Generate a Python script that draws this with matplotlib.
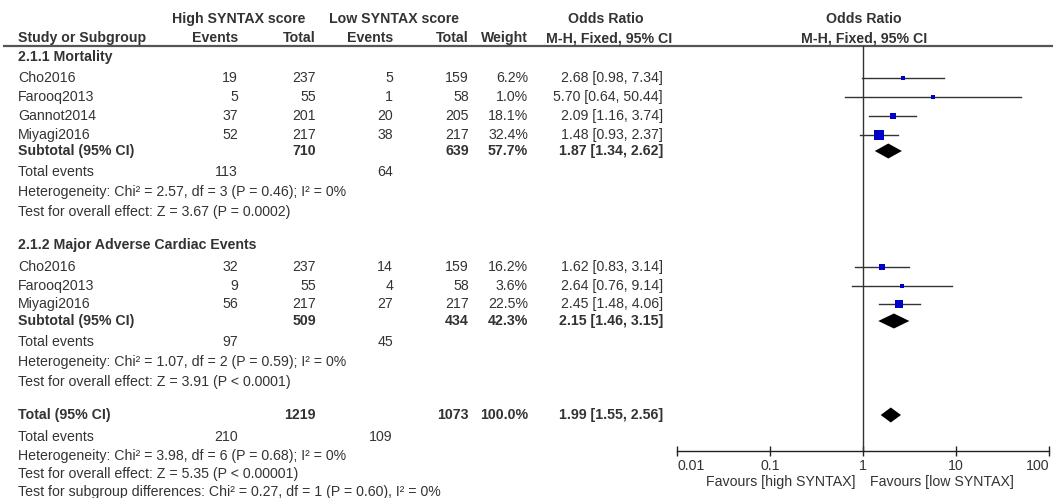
import matplotlib
matplotlib.use("Agg")
import matplotlib.pyplot as plt
import numpy as np

plt.rcParams['font.family'] = ['Liberation Sans', 'DejaVu Sans']

# ---------------- data ----------------
mort_studies = ["Cho2016", "Farooq2013", "Gannot2014", "Miyagi2016"]
mort_high_events = [19, 5, 37, 52]
mort_high_total = [237, 55, 201, 217]
mort_low_events = [5, 1, 20, 38]
mort_low_total = [159, 58, 205, 217]
mort_weight = [6.2, 1.0, 18.1, 32.4]
mort_or = [2.68, 5.70, 2.09, 1.48]
mort_lo = [0.98, 0.64, 1.16, 0.93]
mort_hi = [7.34, 50.44, 3.74, 2.37]
mort_sub = dict(high_total=710, low_total=639, weight=57.7, est=1.87, lo=1.34, hi=2.62,
                high_events=113, low_events=64)
mort_het = "Heterogeneity: Chi² = 2.57, df = 3 (P = 0.46); I² = 0%"
mort_test = "Test for overall effect: Z = 3.67 (P = 0.0002)"

mace_studies = ["Cho2016", "Farooq2013", "Miyagi2016"]
mace_high_events = [32, 9, 56]
mace_high_total = [237, 55, 217]
mace_low_events = [14, 4, 27]
mace_low_total = [159, 58, 217]
mace_weight = [16.2, 3.6, 22.5]
mace_or = [1.62, 2.64, 2.45]
mace_lo = [0.83, 0.76, 1.48]
mace_hi = [3.14, 9.14, 4.06]
mace_sub = dict(high_total=509, low_total=434, weight=42.3, est=2.15, lo=1.46, hi=3.15,
                high_events=97, low_events=45)
mace_het = "Heterogeneity: Chi² = 1.07, df = 2 (P = 0.59); I² = 0%"
mace_test = "Test for overall effect: Z = 3.91 (P < 0.0001)"

total = dict(high_total=1219, low_total=1073, weight=100.0, est=1.99, lo=1.55, hi=2.56,
             high_events=210, low_events=109)
total_het = "Heterogeneity: Chi² = 3.98, df = 6 (P = 0.68); I² = 0%"
total_test = "Test for overall effect: Z = 5.35 (P < 0.00001)"
subgroup_test = "Test for subgroup differences: Chi² = 0.27, df = 1 (P = 0.60), I² = 0%"

xticks = [0.01, 0.1, 1, 10, 100]
xtick_labels = ["0.01", "0.1", "1", "10", "100"]

# ---------------- layout ----------------
W, H = 1053, 498
fig = plt.figure(figsize=(W / 100, H / 100), dpi=100)
tax = fig.add_axes([0, 0, 1, 1])
tax.set_xlim(0, W)
tax.set_ylim(H, 0)
tax.axis('off')

TC = '#333333'
FS = 10.2

col_name = 18
col_he = 238
col_ht = 316
col_le = 393
col_lt = 469
col_w = 528
col_or = 663


def txt(x, y, s, ha='left', bold=False, color=TC):
    tax.text(x, y, s, ha=ha, va='center', fontsize=FS, color=color,
             fontweight='bold' if bold else 'normal')


# header
txt(239, 19, "High SYNTAX score", ha='center', bold=True)
txt(394, 19, "Low SYNTAX score", ha='center', bold=True)
txt(606, 19, "Odds Ratio", ha='center', bold=True)
txt(864, 19, "Odds Ratio", ha='center', bold=True)
txt(col_name, 38, "Study or Subgroup", bold=True)
txt(col_he, 38, "Events", ha='right', bold=True)
txt(col_ht, 38, "Total", ha='right', bold=True)
txt(col_le, 38, "Events", ha='right', bold=True)
txt(col_lt, 38, "Total", ha='right', bold=True)
txt(col_w, 38, "Weight", ha='right', bold=True)
txt(609, 38, "M-H, Fixed, 95% CI", ha='center', bold=True)
txt(864, 38, "M-H, Fixed, 95% CI", ha='center', bold=True)
tax.plot([3, W], [46, 46], color='#555555', lw=1.6, solid_capstyle='butt')

# forest axes
ax_top, ax_bot = 46, 451
x_left, x_right = 677, 1049
fax = fig.add_axes([x_left / W, 1 - ax_bot / H, (x_right - x_left) / W, (ax_bot - ax_top) / H])
fax.set_xscale('log')
fax.set_xlim(0.01, 100)
fax.set_ylim(ax_bot, ax_top)
fax.patch.set_alpha(0)
for s in ['top', 'left', 'right']:
    fax.spines[s].set_visible(False)
fax.spines['bottom'].set_color('#222222')
fax.spines['bottom'].set_linewidth(1.0)
fax.set_yticks([])
fax.set_xticks(xticks)
fax.set_xticklabels(xtick_labels)
fax.minorticks_off()
fax.tick_params(axis='x', direction='inout', length=7, width=1.0, color='#222222',
                labelsize=FS, labelcolor=TC, pad=2)
labels = fax.get_xticklabels()
labels[0].set_horizontalalignment('left')
labels[-1].set_horizontalalignment('right')
fax.axvline(1, color='#333333', lw=1.0)

fig.text(856 / W, 1 - 482 / H, "Favours [high SYNTAX]", ha='right', va='center',
         fontsize=FS, color=TC)
fig.text(870 / W, 1 - 482 / H, "Favours [low SYNTAX]", ha='left', va='center',
         fontsize=FS, color=TC)


def study_rows(ys, names, he, ht, le, lt, w, est, lo, hi):
    for i, y in enumerate(ys):
        txt(col_name, y, names[i])
        txt(col_he, y, str(he[i]), ha='right')
        txt(col_ht, y, str(ht[i]), ha='right')
        txt(col_le, y, str(le[i]), ha='right')
        txt(col_lt, y, str(lt[i]), ha='right')
        txt(col_w, y, f"{w[i]:.1f}%", ha='right')
        txt(col_or, y, f"{est[i]:.2f} [{lo[i]:.2f}, {hi[i]:.2f}]", ha='right')
        fax.plot([lo[i], hi[i]], [y, y], color='#333333', lw=1.0, zorder=2)
        side_px = 3 + 0.19 * w[i]
        fax.plot([est[i]], [y], marker='s', ms=side_px * 0.72, color='#0000C8',
                 mec='#0000C8', mew=0, zorder=3, linestyle='none')


def summary_row(y, label, d, events_y):
    txt(col_name, y, label, bold=True)
    txt(col_ht, y, str(d['high_total']), ha='right', bold=True)
    txt(col_lt, y, str(d['low_total']), ha='right', bold=True)
    txt(col_w, y, f"{d['weight']:.1f}%", ha='right', bold=True)
    txt(col_or, y, f"{d['est']:.2f} [{d['lo']:.2f}, {d['hi']:.2f}]", ha='right', bold=True)
    h = 7.5
    fax.fill([d['lo'], d['est'], d['hi'], d['est']], [y, y - h, y, y + h],
             color='black', lw=0, zorder=3)
    txt(col_name, events_y, "Total events")
    txt(col_he, events_y, str(d['high_events']), ha='right')
    txt(col_le, events_y, str(d['low_events']), ha='right')


# subgroup 1
txt(col_name, 57, "2.1.1 Mortality", bold=True)
study_rows([78, 97, 116, 135], mort_studies, mort_high_events, mort_high_total,
           mort_low_events, mort_low_total, mort_weight, mort_or, mort_lo, mort_hi)
summary_row(151, "Subtotal (95% CI)", mort_sub, 172)
txt(col_name, 192, mort_het)
txt(col_name, 212, mort_test)

# subgroup 2
txt(col_name, 245, "2.1.2 Major Adverse Cardiac Events", bold=True)
study_rows([267, 286, 304], mace_studies, mace_high_events, mace_high_total,
           mace_low_events, mace_low_total, mace_weight, mace_or, mace_lo, mace_hi)
summary_row(321, "Subtotal (95% CI)", mace_sub, 342)
txt(col_name, 362, mace_het)
txt(col_name, 382, mace_test)

# total
summary_row(415, "Total (95% CI)", total, 437)
txt(col_name, 456, total_het)
txt(col_name, 474, total_test)
txt(col_name, 492, subgroup_test)

fig.savefig("out.png", dpi=100)
